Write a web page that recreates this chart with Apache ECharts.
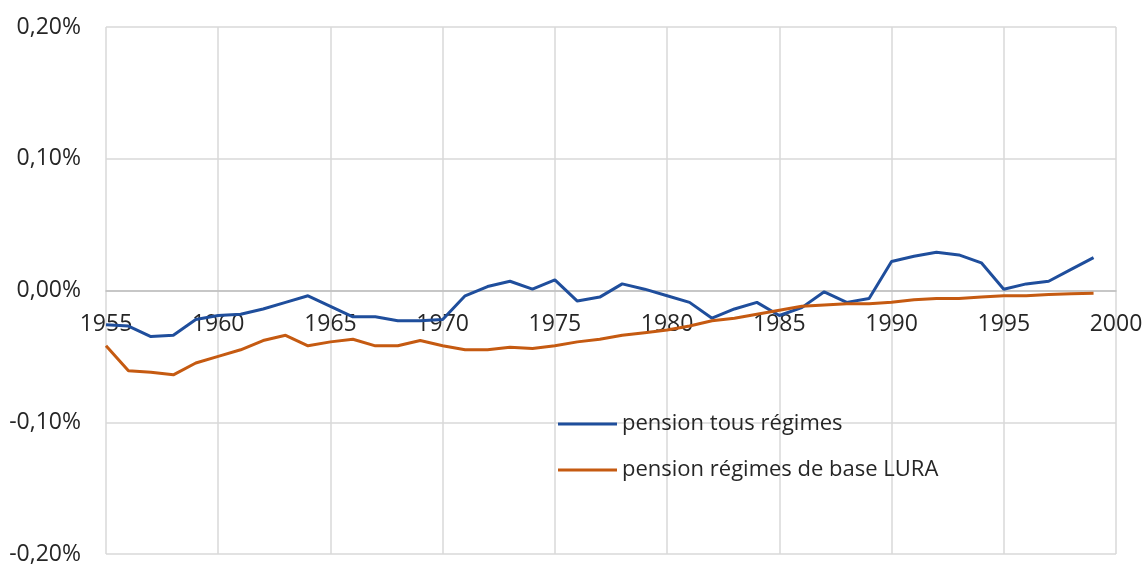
<!DOCTYPE html>
<html>
<head>
<meta charset="utf-8">
<script src="https://cdn.jsdelivr.net/npm/echarts@6/dist/echarts.min.js"></script>
<style>
  html, body { margin: 0; padding: 0; background: #fff; }
  #mychart { width: 1145px; height: 564px; }
</style>
</head>
<body>
<div id="mychart"></div>
<script>
// années 1955-1999
var years = [1955,1956,1957,1958,1959,1960,1961,1962,1963,1964,1965,1966,1967,1968,1969,
  1970,1971,1972,1973,1974,1975,1976,1977,1978,1979,1980,1981,1982,1983,1984,
  1985,1986,1987,1988,1989,1990,1991,1992,1993,1994,1995,1996,1997,1998,1999];
// en %
var tousRegimes = [-0.026,-0.027,-0.035,-0.034,-0.022,-0.019,-0.018,-0.014,-0.009,-0.004,-0.012,-0.020,-0.020,-0.023,-0.023,
  -0.022,-0.004,0.003,0.007,0.001,0.008,-0.008,-0.005,0.005,0.001,-0.004,-0.009,-0.021,-0.014,-0.009,
  -0.019,-0.013,-0.001,-0.009,-0.006,0.022,0.026,0.029,0.027,0.021,0.001,0.005,0.007,0.016,0.025];
var regimesBase = [-0.042,-0.061,-0.062,-0.064,-0.055,-0.050,-0.045,-0.038,-0.034,-0.042,-0.039,-0.037,-0.042,-0.042,-0.038,
  -0.042,-0.045,-0.045,-0.043,-0.044,-0.042,-0.039,-0.037,-0.034,-0.032,-0.030,-0.027,-0.023,-0.021,-0.018,
  -0.015,-0.012,-0.011,-0.010,-0.010,-0.009,-0.007,-0.006,-0.006,-0.005,-0.004,-0.004,-0.003,-0.0025,-0.002];
var seriesNames = ['pension tous régimes', 'pension régimes de base LURA'];
var yMin = -0.2, yMax = 0.2;

function pairs(vals) {
  return years.map(function (y, i) { return [y, vals[i]]; });
}

var mychart = echarts.init(document.getElementById('mychart'));
var option = {
  animation: false,
  textStyle: { fontFamily: 'Open Sans' },
  grid: { left: 106, right: 29, top: 27, bottom: 10, containLabel: false, outerBoundsMode: 'none' },
  legend: {
    orient: 'vertical',
    left: 553,
    top: 408,
    itemWidth: 59,
    itemHeight: 3,
    itemGap: 24,
    icon: 'rect',
    data: seriesNames,
    textStyle: { fontSize: 22, color: '#262626', padding: [0, 0, 0, 0] }
  },
  xAxis: {
    type: 'value',
    min: 1955, max: 2000, interval: 5,
    axisLine: { show: true, onZero: false, lineStyle: { color: '#bfbfbf', width: 1.5 } },
    axisTick: { show: false },
    axisLabel: {
      fontSize: 23, color: '#262626', margin: 22,
      formatter: function (v) { return String(v); }
    },
    splitLine: { show: true, lineStyle: { color: '#d9d9d9', width: 1.5 } }
  },
  yAxis: {
    type: 'value',
    min: yMin, max: yMax, interval: 0.1,
    axisLine: { show: false },
    axisTick: { show: false },
    axisLabel: {
      fontSize: 23, color: '#262626', margin: 25,
      formatter: function (v) { return v.toFixed(2).replace('.', ',') + '%'; }
    },
    splitLine: { lineStyle: { color: '#d9d9d9', width: 1.5 } }
  },
  series: [
    {
      name: seriesNames[0], type: 'line', data: pairs(tousRegimes),
      showSymbol: false, lineStyle: { color: '#1f4e9c', width: 3 }, itemStyle: { color: '#1f4e9c' }
    },
    {
      name: seriesNames[1], type: 'line', data: pairs(regimesBase),
      showSymbol: false, lineStyle: { color: '#c55a11', width: 3 }, itemStyle: { color: '#c55a11' }
    }
  ]
};
mychart.setOption(option);

// l'axe des années croise l'axe vertical à 0
var zeroY = mychart.convertToPixel({ yAxisIndex: 0 }, 0);
var bottomY = mychart.convertToPixel({ yAxisIndex: 0 }, yMin);
mychart.setOption({ xAxis: { offset: zeroY - bottomY } });
</script>
</body>
</html>
